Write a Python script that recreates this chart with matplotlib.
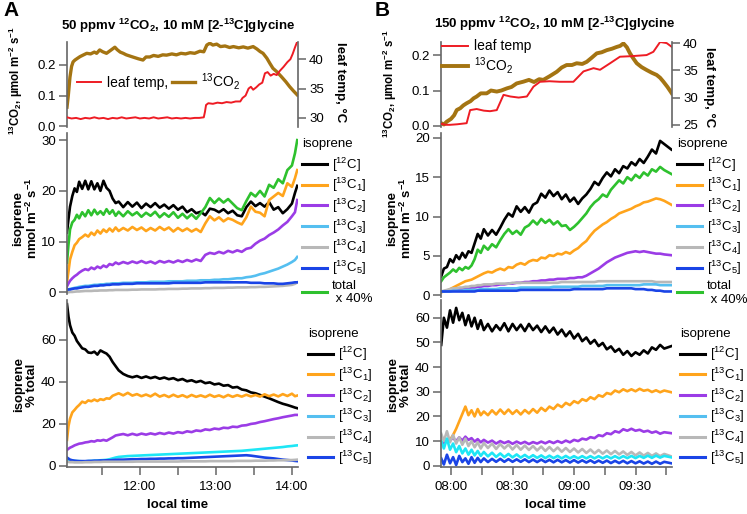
import numpy as np
import matplotlib
matplotlib.use("Agg")
import matplotlib.pyplot as plt
from matplotlib.lines import Line2D

plt.rcParams['font.family'] = ['Liberation Sans', 'DejaVu Sans']
plt.rcParams['mathtext.fontset'] = 'custom'
plt.rcParams['mathtext.rm'] = 'Liberation Sans'
plt.rcParams['mathtext.it'] = 'Liberation Sans:italic'
plt.rcParams['mathtext.bf'] = 'Liberation Sans:bold'

# ===================== DATA =====================
# ---- Panel A : time in decimal hours ----
co2_A = [(11.04, 0.062), (11.057, 0.10), (11.079, 0.16), (11.10, 0.195), (11.12, 0.21),
         (11.145, 0.216), (11.18, 0.222), (11.21, 0.227), (11.25, 0.232), (11.30, 0.238),
         (11.35, 0.236), (11.40, 0.242), (11.43, 0.238), (11.47, 0.249), (11.51, 0.243),
         (11.56, 0.238), (11.61, 0.247), (11.67, 0.258), (11.70, 0.25), (11.74, 0.242),
         (11.78, 0.238), (11.82, 0.233), (11.88, 0.228), (11.93, 0.224), (11.98, 0.22),
         (12.04, 0.216), (12.08, 0.226), (12.13, 0.226), (12.18, 0.231), (12.24, 0.228),
         (12.30, 0.233), (12.35, 0.232), (12.42, 0.236), (12.48, 0.233), (12.54, 0.238),
         (12.60, 0.236), (12.66, 0.24), (12.72, 0.238), (12.79, 0.245), (12.84, 0.243),
         (12.88, 0.265), (12.92, 0.271), (12.96, 0.265), (13.01, 0.268), (13.06, 0.26),
         (13.12, 0.262), (13.18, 0.257), (13.23, 0.26), (13.30, 0.256), (13.36, 0.259),
         (13.42, 0.255), (13.49, 0.26), (13.54, 0.252), (13.58, 0.244), (13.62, 0.238),
         (13.67, 0.222), (13.71, 0.205), (13.75, 0.189), (13.80, 0.178), (13.86, 0.162),
         (13.92, 0.145), (13.97, 0.129), (14.02, 0.115), (14.07, 0.102)]
temp_A = [(11.04, 30.1), (11.10, 29.9), (11.16, 30.0), (11.22, 29.8), (11.28, 30.0),
          (11.34, 29.9), (11.40, 30.1), (11.46, 29.9), (11.52, 30.0), (11.58, 29.8),
          (11.64, 30.0), (11.70, 29.9), (11.76, 30.1), (11.82, 29.9), (11.88, 30.0),
          (11.94, 30.1), (12.00, 29.9), (12.06, 30.0), (12.12, 29.9), (12.18, 30.1),
          (12.24, 29.9), (12.30, 30.0), (12.36, 30.1), (12.42, 29.9), (12.48, 30.0),
          (12.54, 29.9), (12.60, 30.0), (12.66, 29.9), (12.72, 30.0), (12.78, 30.0),
          (12.84, 30.1), (12.855, 31.0), (12.87, 32.2), (12.90, 32.5), (12.96, 32.4),
          (13.02, 32.6), (13.08, 32.5), (13.14, 32.7), (13.20, 32.6), (13.26, 32.8),
          (13.32, 32.8), (13.35, 33.4), (13.39, 33.8), (13.43, 35.0), (13.46, 35.3),
          (13.49, 34.8), (13.53, 35.2), (13.57, 35.7), (13.61, 36.0), (13.645, 37.6),
          (13.68, 37.8), (13.72, 37.2), (13.76, 37.5), (13.80, 37.3), (13.84, 38.0),
          (13.89, 38.7), (13.94, 39.5), (13.98, 40.0), (14.01, 40.9), (14.04, 42.0),
          (14.07, 43.0)]

tA = [11.04, 11.06, 11.08, 11.11, 11.14, 11.17, 11.20, 11.24, 11.28, 11.32,
      11.36, 11.40, 11.44, 11.48, 11.52, 11.56, 11.60, 11.64, 11.68, 11.72,
      11.78, 11.84, 11.90, 11.96, 12.02, 12.08, 12.14, 12.20, 12.26, 12.32,
      12.38, 12.44, 12.50, 12.56, 12.62, 12.68, 12.74, 12.80, 12.86, 12.92,
      12.98, 13.04, 13.10, 13.16, 13.22, 13.28, 13.34, 13.40, 13.46, 13.52,
      13.58, 13.64, 13.70, 13.76, 13.82, 13.88, 13.94, 14.00, 14.04, 14.07]

# isoprene emission, nmol m-2 s-1 (panel A)
isoA_12C = [11.8, 14.5, 16.9, 19.0, 20.5, 19.8, 21.8, 20.4, 22.0, 20.3,
            21.9, 20.3, 21.5, 20.0, 22.0, 20.6, 20.0, 18.5, 17.6, 17.9,
            16.8, 17.8, 16.9, 17.7, 16.6, 17.5, 16.8, 17.6, 16.7, 17.3,
            16.5, 17.2, 16.3, 16.9, 15.8, 16.4, 15.6, 15.9, 15.2, 16.5,
            16.3, 15.8, 16.4, 15.6, 16.1, 15.2, 15.0, 16.8, 17.9, 17.0,
            17.6, 16.9, 17.8, 16.3, 16.8, 15.6, 16.4, 17.5, 19.6, 21.0]
isoA_C1 = [2.0, 4.2, 6.5, 8.0, 9.3, 9.8, 10.5, 10.9, 11.4, 11.0,
           11.8, 11.3, 12.2, 11.6, 12.4, 11.9, 12.6, 12.0, 12.8, 12.1,
           12.7, 12.2, 12.9, 12.3, 12.8, 12.1, 12.7, 12.2, 12.9, 12.3,
           12.8, 12.0, 12.7, 12.1, 12.6, 12.0, 12.5, 11.9, 13.6, 15.0,
           14.2, 14.8, 14.0, 14.6, 14.3, 13.8, 13.4, 14.8, 16.9, 15.9,
           15.7, 15.0, 18.2, 18.9, 19.6, 19.0, 21.5, 20.8, 22.5, 24.1]
isoA_C2 = [1.2, 1.8, 2.3, 2.8, 3.2, 3.5, 3.9, 4.3, 4.6, 4.4,
           4.9, 4.6, 5.1, 4.8, 5.3, 5.0, 5.6, 5.4, 5.9, 5.6,
           6.0, 5.7, 6.1, 5.8, 6.2, 5.8, 6.1, 5.7, 6.2, 5.9,
           6.2, 5.9, 6.3, 6.0, 6.4, 6.1, 6.5, 6.2, 7.4, 7.8,
           7.6, 8.0, 7.7, 8.2, 7.9, 8.3, 8.0, 8.6, 8.8, 9.6,
           10.2, 10.6, 11.3, 11.8, 12.4, 13.2, 13.9, 15.0, 15.8, 18.2]
isoA_C3 = [0.5, 0.6, 0.7, 0.8, 0.9, 1.0, 1.1, 1.2, 1.3, 1.3,
           1.4, 1.5, 1.5, 1.6, 1.6, 1.7, 1.7, 1.8, 1.8, 1.8,
           1.9, 1.9, 1.9, 2.0, 2.0, 2.0, 2.1, 2.1, 2.1, 2.1,
           2.2, 2.2, 2.2, 2.2, 2.3, 2.3, 2.3, 2.4, 2.4, 2.4,
           2.5, 2.5, 2.6, 2.6, 2.7, 2.8, 2.8, 3.0, 3.1, 3.3,
           3.6, 3.8, 4.1, 4.4, 4.7, 5.1, 5.5, 6.0, 6.4, 7.0]
isoA_C4 = [0.0, 0.05, 0.1, 0.1, 0.15, 0.2, 0.2, 0.25, 0.3, 0.3,
           0.3, 0.35, 0.35, 0.4, 0.4, 0.4, 0.45, 0.45, 0.5, 0.5,
           0.5, 0.5, 0.55, 0.55, 0.6, 0.6, 0.6, 0.6, 0.65, 0.65,
           0.7, 0.7, 0.7, 0.75, 0.75, 0.8, 0.8, 0.8, 0.85, 0.85,
           0.9, 0.9, 0.9, 0.95, 0.95, 1.0, 1.0, 1.0, 1.05, 1.05,
           1.1, 1.1, 1.15, 1.2, 1.25, 1.3, 1.4, 1.5, 1.7, 2.0]
isoA_C5 = [0.5, 0.6, 0.6, 0.7, 0.8, 0.8, 0.9, 1.0, 1.1, 1.1,
           1.2, 1.3, 1.3, 1.4, 1.4, 1.5, 1.5, 1.6, 1.6, 1.6,
           1.7, 1.7, 1.7, 1.8, 1.8, 1.8, 1.8, 1.8, 1.8, 1.8,
           1.8, 1.9, 1.9, 1.9, 1.9, 1.9, 1.9, 1.9, 2.0, 2.0,
           2.0, 2.0, 2.0, 2.0, 2.0, 2.0, 2.0, 2.0, 1.9, 1.9,
           1.9, 1.8, 1.8, 1.8, 1.7, 1.7, 1.8, 1.9, 2.0, 2.0]
isoA_total40 = [5.9, 9.5, 12.4, 13.8, 14.3, 15.3, 14.6, 15.8, 15.0, 16.2,
                15.2, 16.3, 15.4, 16.0, 15.3, 16.4, 15.5, 16.2, 15.1, 15.9,
                15.0, 16.0, 15.2, 15.8, 14.9, 15.7, 15.1, 15.9, 14.8, 15.6,
                14.9, 15.8, 14.7, 15.5, 14.6, 15.4, 14.5, 15.6, 16.8, 18.6,
                17.6, 18.5, 17.7, 18.4, 17.5, 16.6, 16.2, 18.0, 19.6, 18.9,
                20.0, 18.9, 21.2, 20.6, 22.3, 21.5, 24.1, 25.0, 27.4, 30.0]

# isoprene, % of total (panel A)
pctA_12C = [77.0, 71.0, 67.0, 63.5, 62.0, 59.5, 58.0, 56.0, 55.5, 54.0,
            53.8, 54.4, 53.0, 55.0, 54.2, 53.5, 52.0, 49.5, 47.5, 45.5,
            43.8, 42.8, 42.2, 42.8, 41.9, 42.6, 41.8, 42.4, 41.5, 42.1,
            41.3, 41.8, 40.8, 41.4, 40.3, 40.8, 39.9, 40.5, 39.4, 39.8,
            38.8, 39.2, 38.2, 38.5, 37.3, 37.6, 36.4, 36.0, 35.0, 34.6,
            33.8, 33.0, 32.2, 31.3, 30.4, 29.6, 29.0, 28.3, 27.8, 27.5]
pctA_C1 = [12.4, 19.0, 22.5, 25.5, 26.7, 28.0, 29.0, 30.6, 30.0, 31.2,
           30.8, 31.6, 30.9, 31.8, 31.4, 32.2, 32.0, 33.4, 34.0, 34.6,
           33.6, 34.8, 33.5, 34.2, 33.2, 34.0, 33.1, 34.4, 33.0, 33.8,
           32.8, 33.9, 32.9, 33.7, 32.7, 33.8, 32.9, 33.6, 32.8, 33.9,
           32.9, 33.6, 32.7, 33.8, 32.9, 33.7, 33.0, 33.9, 33.1, 33.8,
           33.0, 34.1, 33.2, 34.0, 33.1, 34.2, 33.3, 34.4, 33.2, 33.5]
pctA_C2 = [7.6, 8.2, 8.7, 9.2, 9.8, 10.2, 10.6, 10.8, 11.2, 11.4,
           11.8, 11.6, 12.2, 12.0, 12.4, 12.0, 12.8, 13.6, 14.5, 14.8,
           15.2, 14.6, 15.3, 14.7, 15.4, 14.9, 15.5, 15.0, 15.7, 15.2,
           15.9, 15.4, 16.1, 15.7, 16.5, 16.1, 16.9, 16.6, 17.4, 17.1,
           17.8, 17.5, 18.2, 18.0, 18.7, 18.5, 19.2, 19.4, 20.0, 20.3,
           20.9, 21.3, 21.8, 22.3, 22.7, 23.2, 23.6, 24.0, 24.3, 24.3]
pctA_C3 = [3.0, 2.8, 2.6, 2.5, 2.4, 2.3, 2.3, 2.2, 2.2, 2.3,
           2.4, 2.5, 2.6, 2.7, 2.8, 2.9, 3.2, 3.6, 4.0, 4.3,
           4.5, 4.7, 4.8, 4.9, 5.0, 5.1, 5.2, 5.3, 5.4, 5.5,
           5.6, 5.7, 5.8, 5.9, 6.0, 6.1, 6.2, 6.3, 6.4, 6.5,
           6.6, 6.7, 6.8, 6.9, 7.0, 7.1, 7.2, 7.4, 7.6, 7.8,
           8.0, 8.2, 8.4, 8.6, 8.8, 9.0, 9.3, 9.5, 9.7, 9.8]
pctA_C4 = [2.0, 1.9, 1.8, 1.8, 1.7, 1.7, 1.7, 1.7, 1.8, 1.8,
           1.8, 1.9, 1.9, 1.9, 2.0, 2.0, 2.0, 2.0, 2.0, 2.0,
           2.0, 2.0, 2.0, 2.1, 2.1, 2.1, 2.1, 2.1, 2.1, 2.1,
           2.1, 2.1, 2.1, 2.2, 2.2, 2.2, 2.2, 2.2, 2.2, 2.3,
           2.3, 2.3, 2.3, 2.3, 2.3, 2.4, 2.4, 2.4, 2.4, 2.5,
           2.5, 2.5, 2.6, 2.6, 2.7, 2.7, 2.8, 2.8, 2.9, 3.0]
pctA_C5 = [4.0, 3.5, 3.0, 2.7, 2.5, 2.4, 2.3, 2.3, 2.3, 2.4,
           2.4, 2.5, 2.5, 2.6, 2.6, 2.7, 2.7, 2.8, 2.9, 3.0,
           3.0, 3.1, 3.2, 3.2, 3.3, 3.3, 3.4, 3.4, 3.5, 3.5,
           3.6, 3.6, 3.7, 3.7, 3.8, 3.9, 4.0, 4.1, 4.2, 4.3,
           4.4, 4.5, 4.6, 4.7, 4.8, 4.9, 5.0, 5.1, 4.9, 4.6,
           4.3, 4.0, 3.8, 3.6, 3.3, 3.0, 2.8, 2.6, 2.4, 2.3]

# ---- Panel B : time in minutes after 08:00 ----
co2_B = [(-4.9, 0.008), (-3.5, 0.004), (-2.1, 0.012), (0.0, 0.02), (1.5, 0.03),
         (2.8, 0.045), (4.5, 0.05), (6.0, 0.058), (7.6, 0.064), (9.5, 0.07),
         (11.0, 0.078), (12.5, 0.083), (14.5, 0.092), (17.4, 0.092), (19.5, 0.1),
         (22.3, 0.097), (24.5, 0.1), (27.2, 0.106), (29.5, 0.11), (32.0, 0.12),
         (35.3, 0.125), (38.0, 0.13), (40.5, 0.124), (43.0, 0.132), (45.0, 0.13),
         (48.0, 0.14), (51.6, 0.153), (54.0, 0.165), (56.4, 0.172), (59.0, 0.172),
         (61.3, 0.177), (64.0, 0.175), (66.2, 0.181), (68.5, 0.192), (71.1, 0.205),
         (73.5, 0.208), (76.0, 0.214), (78.5, 0.218), (80.8, 0.223), (82.5, 0.226),
         (84.1, 0.233), (85.8, 0.222), (87.3, 0.205), (89.0, 0.19), (90.6, 0.177),
         (93.0, 0.166), (95.4, 0.158), (98.0, 0.15), (100.3, 0.144), (102.0, 0.136),
         (103.6, 0.125), (105.6, 0.11), (107.7, 0.092)]
temp_B = [(-4.9, 25.2), (-2.5, 25.0), (-0.5, 25.0), (3.0, 25.1), (7.6, 25.3),
          (9.3, 27.7), (12.5, 27.9), (16.0, 27.6), (19.0, 27.5), (22.3, 27.7),
          (25.6, 30.5), (28.9, 30.2), (33.0, 30.0), (37.0, 30.2), (40.2, 32.0),
          (43.4, 32.9), (48.0, 33.0), (53.0, 32.9), (59.7, 32.9), (64.6, 34.8),
          (69.5, 35.4), (72.7, 35.1), (77.6, 36.3), (82.4, 37.5), (88.0, 37.6),
          (95.4, 37.8), (98.7, 38.4), (102.0, 40.2), (105.2, 40.0), (107.7, 39.3)]

tB = [-4.8, -3.5, -2.0, -0.5, 1.0, 2.5, 4.0, 5.5, 7.0, 8.5,
      10.0, 11.5, 13.0, 14.5, 16.0, 18.0, 20.0, 22.0, 24.0, 26.0,
      28.0, 30.0, 32.0, 34.0, 36.0, 38.0, 40.0, 42.0, 44.0, 46.0,
      48.0, 50.0, 52.0, 54.0, 56.0, 58.0, 60.0, 62.0, 64.0, 66.0,
      68.0, 70.0, 72.0, 74.0, 76.0, 78.0, 80.0, 82.0, 84.0, 86.0,
      88.0, 90.0, 92.0, 94.0, 96.0, 98.0, 100.0, 102.0, 104.0, 107.5]

isoB_12C = [2.4, 3.4, 3.6, 4.6, 4.2, 5.1, 4.6, 5.4, 4.8, 5.6,
            5.4, 6.6, 7.8, 7.2, 8.4, 7.6, 8.3, 7.7, 8.6, 9.6,
            10.4, 10.0, 11.3, 10.6, 11.2, 10.5, 11.5, 11.8, 12.9, 12.4,
            13.3, 12.6, 13.1, 12.2, 12.8, 11.9, 12.4, 11.6, 12.3, 12.8,
            13.5, 14.4, 14.0, 14.9, 15.6, 15.1, 16.0, 15.5, 16.4, 16.1,
            16.9, 16.5, 17.3, 16.8, 17.6, 18.5, 18.0, 19.6, 19.2, 18.5]
isoB_C1 = [0.4, 0.5, 0.6, 0.8, 1.0, 1.2, 1.4, 1.6, 1.8, 1.9,
           2.0, 2.2, 2.4, 2.6, 2.8, 3.0, 2.9, 3.2, 3.4, 3.2,
           3.6, 3.5, 3.9, 4.1, 3.9, 4.3, 4.5, 4.4, 4.8, 4.7,
           5.1, 5.0, 5.3, 5.2, 5.5, 5.3, 5.7, 6.0, 6.5, 6.9,
           7.6, 8.2, 8.6, 9.0, 9.3, 9.7, 10.0, 10.4, 10.6, 10.8,
           11.0, 11.3, 11.5, 11.8, 11.9, 12.1, 12.3, 12.2, 12.0, 11.5]
isoB_C2 = [0.5, 0.5, 0.6, 0.6, 0.7, 0.7, 0.8, 0.8, 0.9, 0.9,
           1.0, 1.0, 1.1, 1.1, 1.2, 1.2, 1.3, 1.3, 1.4, 1.4,
           1.5, 1.5, 1.6, 1.6, 1.7, 1.7, 1.8, 1.8, 1.9, 1.9,
           2.0, 2.0, 2.1, 2.1, 2.1, 2.2, 2.2, 2.3, 2.3, 2.5,
           2.8, 3.1, 3.4, 3.8, 4.2, 4.5, 4.8, 5.0, 5.2, 5.4,
           5.5, 5.6, 5.5, 5.6, 5.5, 5.4, 5.3, 5.3, 5.2, 5.1]
isoB_C3 = [0.5, 0.5, 0.5, 0.5, 0.6, 0.6, 0.6, 0.6, 0.7, 0.7,
           0.7, 0.7, 0.7, 0.8, 0.8, 0.8, 0.8, 0.8, 0.9, 0.9,
           0.9, 0.9, 0.9, 1.0, 1.0, 1.0, 1.0, 1.0, 1.0, 1.0,
           1.0, 1.1, 1.1, 1.1, 1.1, 1.1, 1.1, 1.1, 1.2, 1.2,
           1.2, 1.2, 1.2, 1.2, 1.3, 1.3, 1.3, 1.3, 1.3, 1.3,
           1.3, 1.3, 1.3, 1.4, 1.4, 1.4, 1.4, 1.3, 1.3, 1.3]
isoB_C4 = [0.5, 0.6, 0.7, 0.8, 0.9, 0.9, 1.0, 1.0, 1.1, 1.1,
           1.2, 1.2, 1.3, 1.3, 1.4, 1.4, 1.4, 1.5, 1.5, 1.5,
           1.5, 1.6, 1.6, 1.6, 1.6, 1.6, 1.6, 1.6, 1.6, 1.6,
           1.6, 1.6, 1.6, 1.7, 1.7, 1.7, 1.7, 1.7, 1.7, 1.7,
           1.7, 1.7, 1.8, 1.8, 1.8, 1.8, 1.8, 1.8, 1.8, 1.8,
           1.8, 1.8, 1.8, 1.8, 1.8, 1.8, 1.7, 1.7, 1.7, 1.7]
isoB_C5 = [0.5, 0.5, 0.5, 0.5, 0.5, 0.5, 0.5, 0.5, 0.5, 0.5,
           0.5, 0.5, 0.6, 0.6, 0.6, 0.6, 0.6, 0.6, 0.6, 0.6,
           0.6, 0.6, 0.6, 0.7, 0.7, 0.7, 0.7, 0.7, 0.7, 0.7,
           0.7, 0.7, 0.7, 0.7, 0.7, 0.7, 0.8, 0.8, 0.8, 0.8,
           0.8, 0.8, 0.8, 0.8, 0.9, 0.9, 0.9, 0.9, 0.9, 0.9,
           0.9, 0.8, 0.8, 0.8, 0.7, 0.7, 0.6, 0.6, 0.5, 0.5]
isoB_total40 = [1.8, 2.3, 2.6, 2.9, 3.3, 3.0, 3.5, 3.2, 3.6, 3.4,
                3.8, 4.6, 5.8, 5.4, 6.3, 5.8, 6.5, 6.1, 7.0, 7.8,
                8.4, 7.8, 8.2, 7.7, 8.6, 8.9, 9.5, 9.0, 9.7, 9.2,
                9.6, 9.0, 9.4, 8.8, 8.9, 8.3, 8.7, 9.2, 9.8, 10.4,
                11.2, 11.8, 12.2, 12.8, 12.5, 13.4, 14.0, 14.6, 14.2, 15.0,
                14.6, 15.3, 14.9, 15.6, 15.2, 16.0, 15.7, 16.3, 15.9, 15.4]

pctB_12C = [49.0, 60.0, 56.0, 63.0, 58.0, 64.0, 59.0, 62.0, 57.0, 61.0,
            56.5, 60.0, 55.5, 59.0, 55.0, 57.5, 54.5, 57.0, 55.0, 57.8,
            54.5, 57.5, 55.0, 57.2, 54.6, 57.5, 55.0, 56.8, 54.2, 56.5,
            54.0, 56.0, 53.2, 55.2, 52.5, 54.5, 51.6, 53.5, 50.5, 52.0,
            49.5, 51.0, 48.5, 49.8, 47.2, 48.4, 46.2, 47.4, 45.0, 46.5,
            44.5, 46.0, 45.0, 46.8, 45.5, 48.0, 47.0, 49.0, 47.5, 48.5]
pctB_C1 = [9.0, 9.5, 10.0, 10.5, 12.5, 15.0, 18.0, 21.0, 24.0, 20.5,
           22.5, 20.0, 23.0, 20.5, 22.0, 20.5, 22.5, 20.8, 22.8, 21.0,
           22.8, 21.0, 22.5, 20.8, 22.6, 21.2, 23.0, 21.5, 23.5, 22.2,
           24.0, 23.0, 24.8, 23.8, 25.5, 24.6, 26.2, 25.4, 27.0, 26.3,
           27.8, 27.0, 28.6, 28.0, 29.5, 29.0, 30.5, 29.8, 31.0, 30.2,
           31.0, 30.2, 31.2, 30.4, 30.8, 29.9, 30.6, 29.8, 30.5, 29.8]
pctB_C2 = [9.0, 9.5, 10.0, 10.5, 11.2, 10.0, 11.5, 10.2, 11.8, 10.5,
           11.2, 9.8, 10.8, 9.5, 10.5, 9.4, 10.2, 9.0, 10.0, 9.2,
           9.9, 8.9, 9.8, 9.0, 9.7, 8.8, 9.6, 9.0, 9.8, 9.1,
           9.9, 9.2, 10.0, 9.3, 10.2, 9.5, 10.5, 10.0, 11.0, 10.6,
           11.6, 11.2, 12.4, 12.0, 13.2, 12.8, 14.0, 13.5, 14.8, 14.2,
           15.0, 14.2, 14.6, 13.8, 14.2, 13.4, 13.9, 13.0, 13.6, 13.2]
pctB_C3 = [10.0, 7.0, 11.0, 6.5, 9.0, 5.5, 8.0, 5.0, 7.0, 4.5,
           6.5, 4.2, 6.0, 4.0, 5.6, 3.8, 5.3, 3.6, 5.0, 3.5,
           4.8, 3.4, 4.6, 3.3, 4.4, 3.2, 4.3, 3.2, 4.2, 3.1,
           4.1, 3.1, 4.0, 3.0, 4.0, 3.0, 3.9, 3.0, 3.9, 3.0,
           3.9, 3.0, 3.9, 3.0, 3.9, 3.0, 3.9, 3.0, 3.9, 3.1,
           4.0, 3.1, 4.0, 3.2, 4.1, 3.2, 4.1, 3.3, 4.0, 3.4]
pctB_C4 = [13.0, 10.0, 14.0, 9.5, 12.5, 9.0, 11.5, 8.5, 11.0, 8.0,
           10.0, 7.5, 9.5, 7.0, 9.2, 7.2, 9.0, 6.8, 8.8, 7.0,
           8.6, 6.6, 8.4, 6.5, 8.2, 6.4, 8.0, 6.2, 7.8, 6.0,
           7.6, 5.9, 7.4, 5.7, 7.2, 5.6, 7.0, 5.4, 6.8, 5.2,
           6.6, 5.0, 6.4, 4.9, 6.2, 4.7, 6.0, 4.6, 5.8, 4.4,
           5.6, 4.2, 5.4, 4.1, 5.2, 4.0, 5.0, 3.9, 4.8, 3.8]
pctB_C5 = [3.0, 0.5, 4.5, 1.0, 3.5, 0.3, 4.0, 1.5, 3.0, 0.8,
           3.5, 1.2, 3.2, 1.5, 3.0, 1.5, 2.8, 1.6, 2.8, 1.6,
           2.7, 1.6, 2.6, 1.6, 2.6, 1.5, 2.5, 1.5, 2.5, 1.5,
           2.4, 1.4, 2.4, 1.4, 2.3, 1.3, 2.3, 1.3, 2.2, 1.3,
           2.2, 1.2, 2.1, 1.2, 2.1, 1.1, 2.0, 1.1, 2.0, 1.0,
           1.9, 1.0, 1.8, 0.9, 1.7, 0.8, 1.7, 0.8, 1.6, 1.0]

# ---- axis ticks / labels ----
A_xticks = [12, 13, 14]
A_xticklabels = ["12:00", "13:00", "14:00"]
A_xminor = [11.5, 12.5, 13.5]
B_xticks = [0, 30, 60, 90]
B_xticklabels = ["08:00", "08:30", "09:00", "09:30"]
B_xminor = [15, 45, 75, 105]

iso_labels = [r"[$^{12}$C]", r"[$^{13}$C$_1$]", r"[$^{13}$C$_2$]", r"[$^{13}$C$_3$]",
              r"[$^{13}$C$_4$]", r"[$^{13}$C$_5$]"]
total_label = "total\n x 40%"

# ---- colours ----
C_BLACK = '#000000'
C_ORANGE = '#FFA41C'
C_PURPLE = '#9B3CE6'
C_LBLUE = '#55BFF0'
C_CYAN = '#1EE6F5'
C_GRAY = '#B8B8B8'
C_BLUE = '#1A44E6'
C_GREEN = '#2EC12E'
C_RED = '#EE1C24'
C_BROWN = '#A47412'
SP = '#666666'

# ===================== FIGURE =====================
W, H = 747, 514
fig = plt.figure(figsize=(W / 100, H / 100), dpi=100)


def add_ax(l, t, r, b):
    return fig.add_axes([l / W, 1 - b / H, (r - l) / W, (b - t) / H])


FS = 9.5
LFS = 9.5


def style(ax, bottom=False):
    ax.patch.set_alpha(0)
    for s in ['top', 'right']:
        ax.spines[s].set_visible(False)
    ax.spines['bottom'].set_visible(bottom)
    ax.spines['left'].set_color(SP)
    ax.spines['left'].set_linewidth(1.2)
    ax.tick_params(axis='y', direction='out', length=6, width=1.1, color=SP,
                   labelsize=FS, pad=2)
    if bottom:
        ax.spines['bottom'].set_color(SP)
        ax.spines['bottom'].set_linewidth(1.2)
        ax.tick_params(axis='x', which='both', direction='out', length=6, width=1.1,
                       color=SP, labelsize=FS, pad=4)
    else:
        ax.tick_params(axis='x', which='both', bottom=False, labelbottom=False)


def style_right(ax):
    ax.patch.set_alpha(0)
    for s in ['top', 'left', 'bottom']:
        ax.spines[s].set_visible(False)
    ax.spines['right'].set_color(SP)
    ax.spines['right'].set_linewidth(1.2)
    ax.tick_params(axis='y', direction='out', length=6, width=1.1, color=SP,
                   labelsize=FS, pad=2)


def iso_legend(ax, colors, with_total, anchor):
    hs = [Line2D([], [], color=c, lw=2.2) for c in colors]
    labs = list(iso_labels)
    if with_total:
        hs.append(Line2D([], [], color=C_GREEN, lw=2.2))
        labs.append(total_label)
    leg = ax.legend(hs, labs, title='isoprene', loc='upper left', bbox_to_anchor=anchor,
                    frameon=False, fontsize=LFS, title_fontsize=LFS, handlelength=1.9,
                    handletextpad=0.35, labelspacing=0.19, borderpad=0, borderaxespad=0,
                    alignment='left')
    leg._legend_box.sep = 4
    return leg


LW = 1.9

# ---------------- Panel A ----------------
axA1 = add_ax(67, 42, 298, 127)
axA2 = add_ax(67, 133, 298, 294)
axA3 = add_ax(67, 300, 298, 467)
for ax in (axA1, axA2, axA3):
    ax.set_xlim(11.04, 14.08)

style(axA1)
axA1t = axA1.twinx()
style_right(axA1t)
t, v = zip(*co2_A)
l_co2, = axA1.plot(t, v, color=C_BROWN, lw=2.4)
t, v = zip(*temp_A)
l_tmp, = axA1t.plot(t, v, color=C_RED, lw=1.4)
axA1.set_ylim(-0.003, 0.275)
axA1.set_yticks([0.0, 0.1, 0.2])
axA1.yaxis.set_major_formatter(matplotlib.ticker.FormatStrFormatter('%.1f'))
axA1t.set_ylim(28.45, 42.93)
axA1t.set_yticks([30, 35, 40])
axA1.legend([l_tmp, l_co2], ['leaf temp,', r'$^{13}$CO$_2$'], ncol=2, loc='center left',
            bbox_to_anchor=(0.045, 0.53), frameon=False, fontsize=10, handlelength=1.7,
            handletextpad=0.4, columnspacing=0.3, borderpad=0, borderaxespad=0)

style(axA2)
for y, c in [(isoA_12C, C_BLACK), (isoA_C1, C_ORANGE), (isoA_C2, C_PURPLE),
             (isoA_C3, C_LBLUE), (isoA_C4, C_GRAY), (isoA_C5, C_BLUE), (isoA_total40, C_GREEN)]:
    axA2.plot(tA, y, color=c, lw=LW)
axA2.set_ylim(-0.3, 31.4)
axA2.set_yticks([0, 10, 20, 30])
iso_legend(axA2, [C_BLACK, C_ORANGE, C_PURPLE, C_LBLUE, C_GRAY, C_BLUE], True, (1.017, 0.97))

style(axA3, bottom=True)
for y, c in [(pctA_12C, C_BLACK), (pctA_C1, C_ORANGE), (pctA_C2, C_PURPLE),
             (pctA_C3, C_CYAN), (pctA_C5, C_BLUE), (pctA_C4, C_GRAY)]:
    axA3.plot(tA, y, color=c, lw=LW)
axA3.set_ylim(-0.5, 79)
axA3.set_yticks([0, 20, 40, 60])
axA3.set_xticks(A_xticks)
axA3.set_xticklabels(A_xticklabels)
axA3.set_xticks(A_xminor, minor=True)
iso_legend(axA3, [C_BLACK, C_ORANGE, C_PURPLE, C_LBLUE, C_GRAY, C_BLUE], False, (1.043, 0.835))

# ---------------- Panel B ----------------
axB1 = add_ax(441, 42, 672, 127)
axB2 = add_ax(441, 133, 672, 297)
axB3 = add_ax(441, 300, 672, 467)
for ax in (axB1, axB2, axB3):
    ax.set_xlim(-4.9, 107.8)

style(axB1)
axB1t = axB1.twinx()
style_right(axB1t)
t, v = zip(*co2_B)
l_co2b, = axB1.plot(t, v, color=C_BROWN, lw=2.8)
t, v = zip(*temp_B)
l_tmpb, = axB1t.plot(t, v, color=C_RED, lw=1.4)
axB1.set_ylim(-0.003, 0.237)
axB1.set_yticks([0.0, 0.1, 0.2])
axB1.yaxis.set_major_formatter(matplotlib.ticker.FormatStrFormatter('%.1f'))
axB1t.set_ylim(24.6, 40.2)
axB1t.set_yticks([25, 30, 35, 40])
axB1.legend([l_tmpb, l_co2b], ['leaf temp', r'$^{13}$CO$_2$'], loc='upper left',
            bbox_to_anchor=(0.004, 1.03), frameon=False, fontsize=10, handlelength=1.9,
            handletextpad=0.4, labelspacing=0.1, borderpad=0, borderaxespad=0)

style(axB2)
for y, c in [(isoB_12C, C_BLACK), (isoB_C1, C_ORANGE), (isoB_C2, C_PURPLE),
             (isoB_C4, C_GRAY), (isoB_C3, C_LBLUE), (isoB_C5, C_BLUE), (isoB_total40, C_GREEN)]:
    axB2.plot(tB, y, color=c, lw=LW)
axB2.set_ylim(-0.2, 20.6)
axB2.set_yticks([0, 5, 10, 15, 20])
iso_legend(axB2, [C_BLACK, C_ORANGE, C_PURPLE, C_LBLUE, C_GRAY, C_BLUE], True, (1.022, 0.97))

style(axB3, bottom=True)
for y, c in [(pctB_12C, C_BLACK), (pctB_C1, C_ORANGE), (pctB_C2, C_PURPLE),
             (pctB_C4, C_GRAY), (pctB_C5, C_BLUE), (pctB_C3, C_CYAN)]:
    axB3.plot(tB, y, color=c, lw=LW)
axB3.set_ylim(-0.5, 67.2)
axB3.set_yticks([0, 10, 20, 30, 40, 50, 60])
axB3.set_xticks(B_xticks)
axB3.set_xticklabels(B_xticklabels)
axB3.set_xticks(B_xminor, minor=True)
iso_legend(axB3, [C_BLACK, C_ORANGE, C_PURPLE, C_LBLUE, C_GRAY, C_BLUE], False, (1.035, 0.835))

# ---------------- text ----------------
def ftext(x, y, s, **kw):
    fig.text(x / W, 1 - y / H, s, **kw)

lab_co2 = r"$^{\mathbf{13}}$CO$_{\mathbf{2}}$, µmol m$^{\mathbf{-2}}$ s$^{\mathbf{-1}}$"
lab_iso = "isoprene\nnmol m$^{\\mathbf{-2}}$ s$^{\\mathbf{-1}}$"
lab_pct = "isoprene\n% total"
lab_temp = "leaf temp, °C"

ftext(3, 11, "A", fontsize=15, fontweight='bold', ha='left', va='center')
ftext(375, 11, "B", fontsize=15, fontweight='bold', ha='left', va='center')
ftext(178, 26, r"50 ppmv $^{\mathbf{12}}$CO$_{\mathbf{2}}$, 10 mM [2-$^{\mathbf{13}}$C]glycine",
      fontsize=9.5, fontweight='bold', ha='center', va='center')
ftext(555, 24, r"150 ppmv $^{\mathbf{12}}$CO$_{\mathbf{2}}$, 10 mM [2-$^{\mathbf{13}}$C]glycine",
      fontsize=9.5, fontweight='bold', ha='center', va='center')

for x0, yc_top, yc_mid, yc_bot, xr, yr in [(0, 81, 218, 385, 340, 82),
                                            (374, 84, 218, 385, 709, 87)]:
    ftext(x0 + 16, yc_top, lab_co2, fontsize=8.3, fontweight='bold', rotation=90,
          ha='center', va='center')
    ftext(x0 + 26, yc_mid, lab_iso, fontsize=9.5, fontweight='bold', rotation=90,
          ha='center', va='center', multialignment='center', linespacing=1.1)
    ftext(x0 + 26, yc_bot, lab_pct, fontsize=9.5, fontweight='bold', rotation=90,
          ha='center', va='center', multialignment='center', linespacing=1.1)
    ftext(xr, yr, lab_temp, fontsize=9.5, fontweight='bold', rotation=-90,
          ha='center', va='center')

ftext(178, 505, "local time", fontsize=9.5, fontweight='bold', ha='center', va='center')
ftext(556, 505, "local time", fontsize=9.5, fontweight='bold', ha='center', va='center')

fig.savefig('out.png', dpi=100)
